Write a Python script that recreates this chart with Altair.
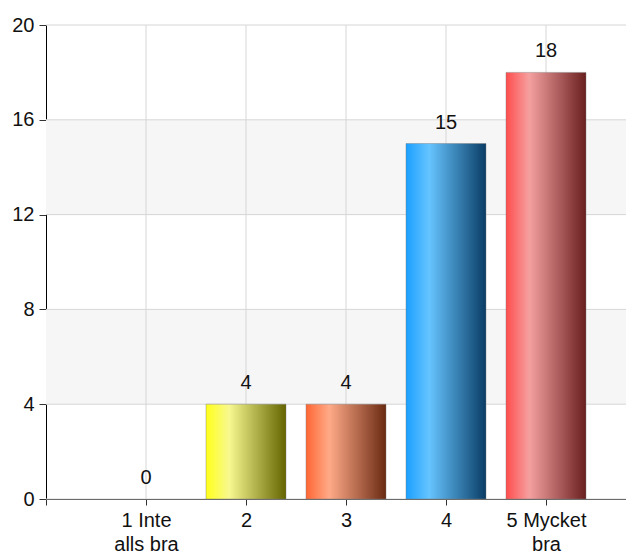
import altair as alt
import pandas as pd

categories = [1, 2, 3, 4, 5]
labels = [["1 Inte", "alls bra"], ["2"], ["3"], ["4"], ["5 Mycket", "bra"]]
values = [0, 4, 4, 15, 18]
y_ticks = [0, 4, 8, 12, 16, 20]
x_ticks = [0, 1, 2, 3, 4, 5]
x_grid = [1, 2, 3, 4, 5]
bands = [(4, 8), (12, 16)]
gradients = [
    ("#ffff1a", "#f8f890", "#646400"),
    ("#ffff1a", "#f8f890", "#646400"),
    ("#ff6633", "#ffaa88", "#6a2a12"),
    ("#1aa0ff", "#66c4ff", "#0a3d66"),
    ("#ff4d4d", "#f5a0a0", "#6a1f1f"),
]

df = pd.DataFrame({"cat": categories, "value": values})
band_df = pd.DataFrame({"y0": [b[0] for b in bands], "y1": [b[1] for b in bands]})
hgrid_df = pd.DataFrame({"y": y_ticks})
vgrid_df = pd.DataFrame({"x": x_grid})

W = 580
H = 474
xscale = alt.Scale(domain=[0, 5.8], nice=False, zero=True, padding=0)
yscale = alt.Scale(domain=[0, 20], nice=False, padding=0)

label_expr = "''"
for c, lab in zip(categories, labels):
    arr = "[" + ",".join("'" + s + "'" for s in lab) + "]"
    label_expr = f"datum.value == {c} ? {arr} : ({label_expr})"

font = "Liberation Sans"

x_axis = alt.Axis(
    values=x_ticks,
    grid=False,
    domainColor="#000",
    tickColor="#333",
    tickSize=6,
    labelFont=font,
    labelFontSize=20,
    labelColor="#111",
    labelPadding=5,
    labelLineHeight=24,
    labelExpr=label_expr,
    labelOverlap=False,
    title=None,
)
y_axis = alt.Axis(
    values=y_ticks,
    grid=False,
    domainColor="#000",
    tickColor="#333",
    tickSize=7,
    labelFont=font,
    labelFontSize=20,
    labelColor="#111",
    labelPadding=5,
    title=None,
)

band_layer = alt.Chart(band_df).mark_rect(color="#f6f6f6").encode(
    y=alt.Y("y0:Q", scale=yscale, axis=y_axis),
    y2="y1:Q",
    x=alt.value(0),
    x2=alt.value(W),
)

hgrid = alt.Chart(hgrid_df).mark_rule(color="#d6d6d6", strokeWidth=1).encode(
    y=alt.Y("y:Q", scale=yscale, axis=y_axis),
    x=alt.value(0),
    x2=alt.value(W),
)

vgrid = alt.Chart(vgrid_df).mark_rule(color="#d6d6d6", strokeWidth=1).encode(
    x=alt.X("x:Q", scale=xscale, axis=x_axis),
    y=alt.value(0),
    y2=alt.value(H),
)

bar_layers = []
for c, v, g in zip(categories, values, gradients):
    if v == 0:
        continue
    grad = alt.Gradient(
        gradient="linear",
        x1=0, x2=1, y1=0, y2=0,
        stops=[
            alt.GradientStop(color=g[0], offset=0),
            alt.GradientStop(color=g[1], offset=0.29),
            alt.GradientStop(color=g[2], offset=1),
        ],
    )
    bar_layers.append(
        alt.Chart(df[df["cat"] == c]).mark_bar(
            size=80, color=grad, stroke="#7a7a7a", strokeWidth=0.6, strokeOpacity=0.7
        ).encode(
            x=alt.X("cat:Q", scale=xscale, axis=x_axis),
            y=alt.Y("value:Q", scale=yscale, axis=y_axis),
        )
    )

text_layer = alt.Chart(df).mark_text(
    font=font, fontSize=20, color="#111", baseline="alphabetic", dy=-15
).encode(
    x=alt.X("cat:Q", scale=xscale, axis=x_axis),
    y=alt.Y("value:Q", scale=yscale, axis=y_axis),
    text="value:Q",
)

chart = alt.layer(band_layer, hgrid, vgrid, *bar_layers, text_layer).properties(
    width=W,
    height=H,
    autosize=alt.AutoSizeParams(type="none"),
    padding={"left": 38, "top": 17, "right": 0, "bottom": 56},
).configure_view(stroke=None)

chart.save("out.html", embed_options={"renderer": "svg", "actions": False})
